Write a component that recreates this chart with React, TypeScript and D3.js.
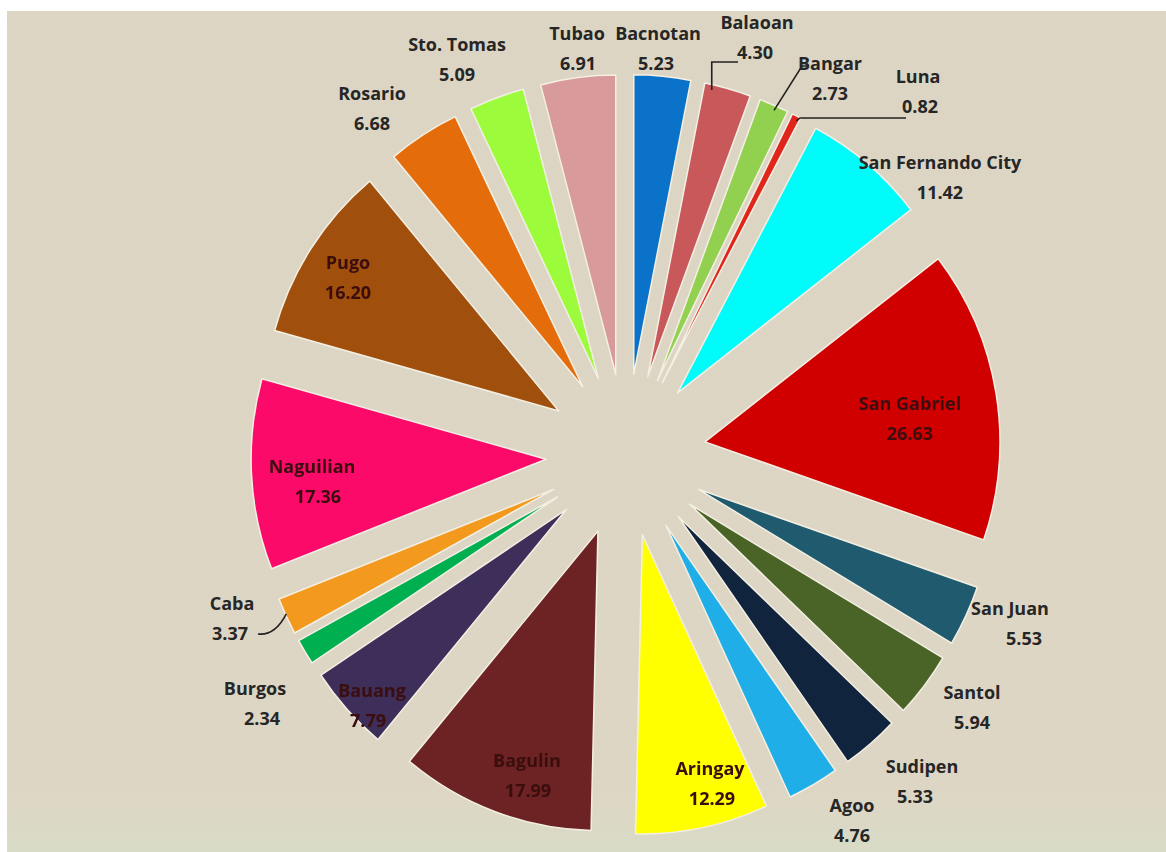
import React from "react";
import * as d3 from "d3";

const names = ["Bacnotan","Balaoan","Bangar","Luna","San Fernando City","San Gabriel","San Juan","Santol","Sudipen","Agoo","Aringay","Bagulin","Bauang","Burgos","Caba","Naguilian","Pugo","Rosario","Sto. Tomas","Tubao"];
const values = [5.23,4.30,2.73,0.82,11.42,26.63,5.53,5.94,5.33,4.76,12.29,17.99,7.79,2.34,3.37,17.36,16.20,6.68,5.09,6.91];
const colors = ["#0a72c8","#c9585a","#92d050","#e0261b","#00fbfb","#d00000","#1f5a6e","#4a6428","#10243e","#20aee8","#ffff00","#6d2224","#3d2f5a","#00b050","#f39a1e","#fc0a6a","#a0500c","#e46c0a","#9cfc3c","#d89a9a"];
const inside = [false,false,false,false,false,true,false,false,false,false,true,true,true,false,false,true,true,false,false,false];

// label anchor layout (text centres) [x, y of first line, dx of second line]
const labelLayout: [number, number, number][] = [
  [658, 33, -2],[757, 22, -2],[830, 63, 0],[918, 76, 2],[940, 162, 0],
  [910, 403, 0],[1010, 608, 14],[972, 692, 0],[922, 766, -7],[852, 805, 0],
  [710, 768, 2],[527, 760, 1],[372, 690, -4],[255, 688, 7],[232, 603, -2],
  [312, 466, 6],[348, 262, 0],[372, 93, 0],[457, 44, 0],[577, 33, 1]
];

const W = 1166, H = 852;
const CX = 626, CY = 455, R = 295, EXPLODE = 80;

export default function App() {
  const pie = d3.pie<number>().sort(null).value((d) => d).startAngle(0).endAngle(2 * Math.PI);
  const arcs = pie(values);
  const arcGen = d3.arc<d3.PieArcDatum<number>>().innerRadius(0).outerRadius(R);
  const offset = (a: d3.PieArcDatum<number>) => {
    const m = (a.startAngle + a.endAngle) / 2;
    return [CX + EXPLODE * Math.sin(m), CY - EXPLODE * Math.cos(m)];
  };
  const outerPt = (i: number, frac: number) => {
    const a = arcs[i];
    const [ox, oy] = offset(a);
    const ang = a.startAngle + (a.endAngle - a.startAngle) * frac;
    return [ox + R * Math.sin(ang), oy - R * Math.cos(ang)];
  };
  const pBal = outerPt(1, 0.15);
  const pBan = outerPt(2, 0.5);
  const pLun = outerPt(3, 0.5);
  const pCab = outerPt(14, 0.5);
  const font = "'Open Sans', 'Noto Sans', sans-serif";
  return (
    <svg width={W} height={H} style={{ position: "absolute", left: 0, top: 0 }}>
      <defs>
        <filter id="soft" x="-10%" y="-10%" width="120%" height="120%">
          <feGaussianBlur stdDeviation="0.7" />
        </filter>
        <linearGradient id="bg" x1="0" y1="0" x2="0" y2="1">
          <stop offset="0" stopColor="#ddd5c3" />
          <stop offset="0.93" stopColor="#ded6c5" />
          <stop offset="1" stopColor="#d8dbc6" />
        </linearGradient>
      </defs>
      <rect x={0} y={0} width={W} height={H} fill="#ffffff" />
      <rect x={7} y={11} width={W - 7} height={H - 11} fill="url(#bg)" />
      <g transform={`translate(0,${-CY * 0.015}) scale(1,1.015)`}>
        {arcs.map((a, i) => {
          const [ox, oy] = offset(a);
          return (
            <path key={names[i]} d={arcGen(a) || ""} transform={`translate(${ox},${oy})`}
              fill={colors[i]} stroke="#f3efe3" strokeWidth={1.5} strokeLinejoin="round" />
          );
        })}
      </g>
      <g fill="none" stroke="#222" strokeWidth={1.6}>
        <path d={`M${pBal[0]},${pBal[1]} V62 H738`} />
        <path d={`M${pBan[0]},${pBan[1]} L802,66 H808`} />
        <path d={`M${pLun[0]},${pLun[1]} L800,118 H906`} />
        <path d={`M${pCab[0]},${pCab[1]} Q275,636 258,634`} />
      </g>
      {arcs.map((a, i) => {
        const [x, y, dx] = labelLayout[i];
        const isIn = inside[i];
        return (
          <g key={"l" + i} fontFamily={font} fontWeight={700} fontSize={18}
            fill={isIn ? "#3a0d10" : "#262626"} textAnchor="middle"
            filter={isIn ? "url(#soft)" : undefined}>
            <text x={x} y={y} dominantBaseline="central">{names[i]}</text>
            <text x={x + dx} y={y + 30} dominantBaseline="central">{values[i].toFixed(2)}</text>
          </g>
        );
      })}
    </svg>
  );
}
